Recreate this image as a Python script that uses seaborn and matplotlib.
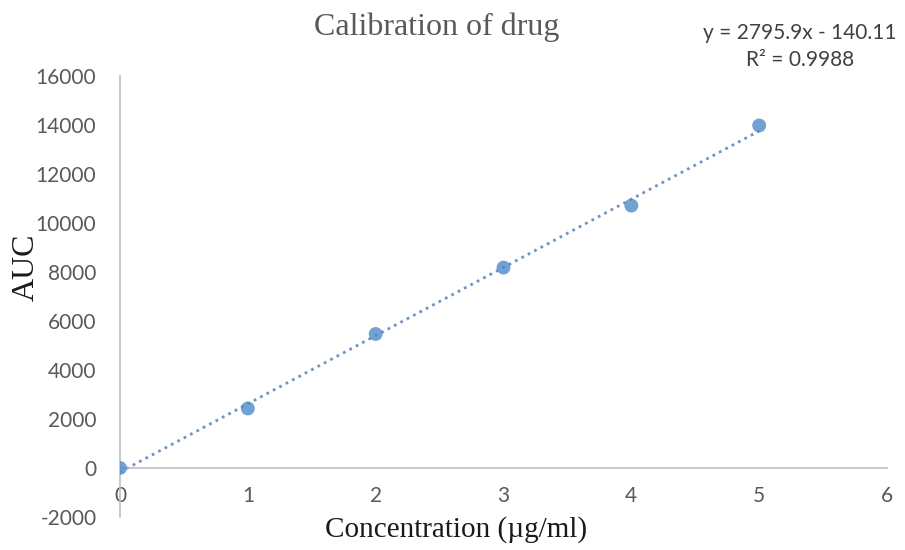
import numpy as np
import pandas as pd
import matplotlib
matplotlib.use("Agg")
import matplotlib.pyplot as plt
import seaborn as sns

# Data
concentration = [0, 1, 2, 3, 4, 5]
auc = [0, 2430, 5470, 8180, 10710, 13980]
x_ticks = [0, 1, 2, 3, 4, 5, 6]
y_ticks = [-2000, 0, 2000, 4000, 6000, 8000, 10000, 12000, 14000, 16000]
title = "Calibration of drug"
x_label = "Concentration (µg/ml)"
y_label = "AUC"
equation = "y = 2795.9x - 140.11"
r_squared = "R² = 0.9988"

df = pd.DataFrame({"conc": concentration, "auc": auc})

sns.set_theme(style="white")
tick_font = "Lato"
plt.rcParams["font.family"] = [tick_font, "DejaVu Sans"]
plt.rcParams["axes.unicode_minus"] = False

fig = plt.figure(figsize=(9.05, 5.5), dpi=100)
ax = fig.add_axes([120 / 905, 1 - 517 / 550, 767 / 905, 441 / 550])

sns.regplot(data=df, x="conc", y="auc", ax=ax, ci=None, truncate=True,
            scatter_kws=dict(s=100, color="#4F8BC9", edgecolor="none", zorder=3),
            line_kws=dict(color="#6F95C2", linestyle=(0, (1, 1.6)), linewidth=2.0, zorder=2))

ax.set_xlim(0, 6)
ax.set_ylim(-2000, 16000)
ax.set_xticks(x_ticks)
ax.set_yticks(y_ticks)
ax.set_xlabel("")
ax.set_ylabel("")

ax.tick_params(axis="both", labelsize=15, labelcolor="#595959", length=0)
ax.tick_params(axis="x", pad=13)
ax.tick_params(axis="y", pad=17)

for s in ["top", "right"]:
    ax.spines[s].set_visible(False)
ax.spines["bottom"].set_position(("data", 0))
ax.spines["left"].set_position(("data", 0))
for s in ["bottom", "left"]:
    ax.spines[s].set_color("#BFBFBF")
    ax.spines[s].set_linewidth(1.2)
ax.grid(False)

fig.text(437 / 905, 1 - 27 / 550, title, ha="center", va="center",
         fontfamily="Liberation Serif", fontsize=23, color="#595959")
fig.text(456 / 905, 1 - 530 / 550, x_label, ha="center", va="center",
         fontfamily="Liberation Serif", fontsize=21, color="#1a1a1a")
fig.text(26 / 905, 1 - 267 / 550, y_label, ha="center", va="center", rotation=90,
         fontfamily="Liberation Serif", fontsize=23, color="#1a1a1a")
fig.text(800 / 905, 1 - 33 / 550, equation, ha="center", va="center",
         fontfamily=tick_font, fontsize=15, color="#404040")
fig.text(800 / 905, 1 - 60 / 550, r_squared, ha="center", va="center",
         fontfamily=tick_font, fontsize=15, color="#404040")

fig.savefig("out.png", dpi=100, facecolor="white")
